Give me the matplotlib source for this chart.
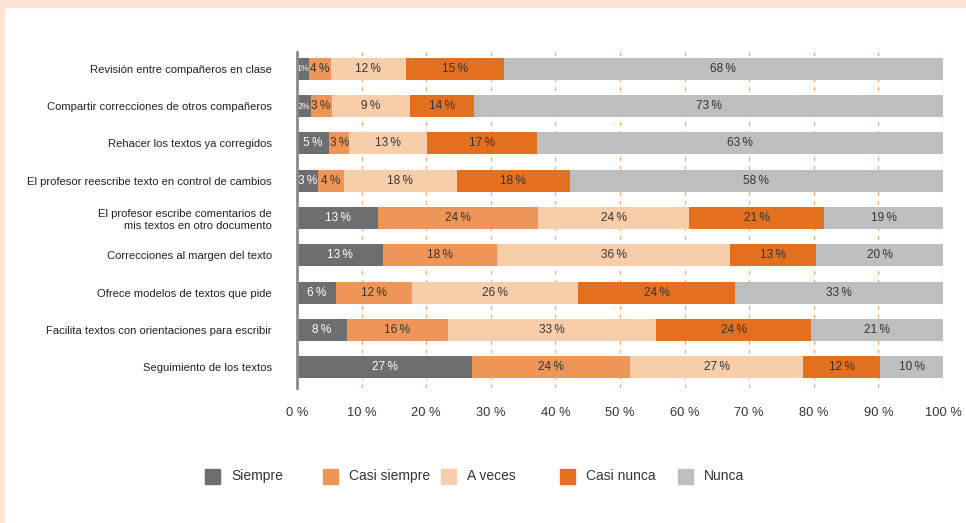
import numpy as np
import matplotlib.pyplot as plt
from matplotlib.patches import Rectangle

plt.rcParams.update({
    "font.family": ["Liberation Sans", "DejaVu Sans"],
    "font.size": 9,
})

# ------------------------------------------------------------
# Data (widths, labels as printed)
# ------------------------------------------------------------
categories = [
    "Revisión entre compañeros en clase",
    "Compartir correcciones de otros compañeros",
    "Rehacer los textos ya corregidos",
    "El profesor reescribe texto en control de cambios",
    "El profesor escribe comentarios de\nmis textos en otro documento",
    "Correcciones al margen del texto",
    "Ofrece modelos de textos que pide",
    "Facilita textos con orientaciones para escribir",
    "Seguimiento de los textos",
]
series = ["Siempre", "Casi siempre", "A veces", "Casi nunca", "Nunca"]

siempre      = [1.8, 2.1, 5.0, 3.3, 12.6, 13.3, 6.0, 7.7, 27.1]
casi_siempre = [3.4, 3.25, 3.1, 3.9, 24.7, 17.6, 11.8, 15.6, 24.5]
a_veces      = [11.7, 12.2, 12.1, 17.6, 23.4, 36.2, 25.7, 32.3, 26.8]
casi_nunca   = [15.1, 9.9, 17.0, 17.4, 20.9, 13.3, 24.3, 24.0, 11.9]
nunca        = [68.0, 72.55, 62.8, 57.8, 18.4, 19.6, 32.2, 20.4, 9.7]

# printed labels (number, % sign added when drawn)
lbl_siempre      = [1, 2, 5, 3, 13, 13, 6, 8, 27]
lbl_casi_siempre = [4, 3, 3, 4, 24, 18, 12, 16, 24]
lbl_a_veces      = [12, 9, 13, 18, 24, 36, 26, 33, 27]
lbl_casi_nunca   = [15, 14, 17, 18, 21, 13, 24, 24, 12]
lbl_nunca        = [68, 73, 63, 58, 19, 20, 33, 21, 10]

x_ticks = [0, 10, 20, 30, 40, 50, 60, 70, 80, 90, 100]

colors = ["#6d6e71", "#ee9657", "#f8cdaa", "#e3701e", "#bcbec0"]
text_colors = ["white", "#333333", "#333333", "#333333", "#333333"]

values = [siempre, casi_siempre, a_veces, casi_nunca, nunca]
labels = [lbl_siempre, lbl_casi_siempre, lbl_a_veces, lbl_casi_nunca, lbl_nunca]

fig = plt.figure(figsize=(9.66, 5.23), dpi=100)
ax = fig.add_axes([297 / 966, 1 - 388 / 523, 646 / 966, 336 / 523])

# peach frame strips
fig.patches.append(Rectangle((0, 1 - 7 / 523), 1, 7 / 523, transform=fig.transFigure,
                             color="#fde3d3", zorder=0))
fig.patches.append(Rectangle((0, 0), 4 / 966, 1, transform=fig.transFigure,
                             color="#fde3d3", zorder=0))

y = np.arange(len(categories))
left = np.zeros(len(categories))
for vals, labs, c, tc in zip(values, labels, colors, text_colors):
    vals = np.array(vals)
    ax.barh(y, vals, left=left, height=0.59, color=c, zorder=2)
    for yi, l, v, t in zip(y, left, vals, labs):
        if v < 2.5:
            s, fs = f"{t}%", 6.3
        else:
            s, fs = f"{t}\u2009%", 8.5
        ax.text(l + v / 2, yi, s, ha="center", va="center", color=tc,
                fontsize=fs, zorder=3)
    left += vals

# dashed gridlines
for t in x_ticks[1:]:
    ax.axvline(t, color="#f4a771", linestyle=(0, (3, 4)), linewidth=0.9, zorder=1)

ax.set_xlim(0, 100)
ax.set_ylim(len(categories) - 0.45, -0.45)
ax.set_yticks(y)
ax.set_yticklabels(categories, fontsize=8.1, color="#222222")
ax.set_xticks(x_ticks)
ax.set_xticklabels([f"{t} %" for t in x_ticks], fontsize=9.3, color="#333333")
ax.tick_params(axis="both", length=0)
ax.tick_params(axis="y", pad=18)
ax.tick_params(axis="x", pad=14)
for s in ["top", "right", "bottom"]:
    ax.spines[s].set_visible(False)
ax.spines["left"].set_color("#8a8a8a")
ax.spines["left"].set_linewidth(2)
ax.spines["left"].set_zorder(4)

# legend, laid out by hand
leg_y = 1 - 476 / 523
for i, (name, c) in enumerate(zip(series, colors)):
    x0 = (205 + i * 118.2) / 966
    fig.patches.append(Rectangle((x0, leg_y - 8 / 523), 15 / 966, 15 / 523,
                                 transform=fig.transFigure, color=c))
    fig.text(x0 + 26 / 966, leg_y, name, ha="left", va="center",
             fontsize=10, color="#333333")

plt.savefig("out.png", dpi=100)
